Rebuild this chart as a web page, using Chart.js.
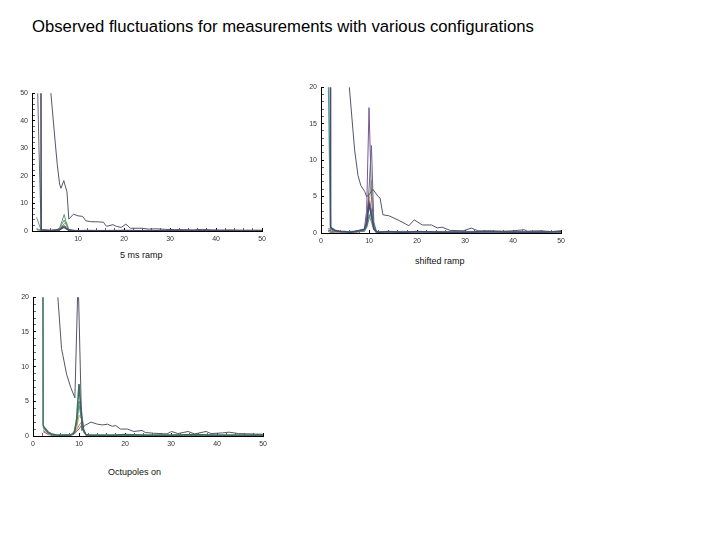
<!DOCTYPE html>
<html>
<head>
<meta charset="utf-8">
<script src="https://cdn.jsdelivr.net/npm/chart.js@4.4.0/dist/chart.umd.min.js"></script>
<style>
  body { margin: 0; background: #fff; width: 720px; height: 540px; position: relative; overflow: hidden; font-family: "Liberation Sans", Arial, sans-serif; }
  .title { position: absolute; left: 32px; top: 17px; font-size: 16.7px; color: #000; white-space: nowrap; }
  .cap { position: absolute; font-size: 9px; color: #111; white-space: nowrap; }
  canvas { position: absolute; }
</style>
</head>
<body>
<div class="title">Observed fluctuations for measurements with various configurations</div>
<canvas id="c1" width="263" height="163" style="left:10px;top:82px"></canvas>
<canvas id="c2" width="273" height="171" style="left:299px;top:76px"></canvas>
<canvas id="c3" width="263" height="164" style="left:11px;top:286px"></canvas>
<div class="cap" style="left:120px;top:250px">5 ms ramp</div>
<div class="cap" style="left:415px;top:256px">shifted ramp</div>
<div class="cap" style="left:108px;top:467px">Octupoles on</div>
<script>
// panel 1: 5 ms ramp (y 0-50)
const x1 = [1, 1.5, 2, 3, 4, 5, 6, 6.5, 7, 7.5, 8, 9, 10, 12, 15, 20, 25, 30, 35, 40, 45, 50];
const p1Slate = [300, 500, 0.4, 0.3, 0.2, 0.3, 0.5, 1.0, 1.4, 0.8, 0.3, 0.2, 0.1, 0.2, 0.1, 0.2, 0.1, 0.2, 0.1, 0.2, 0.1, 0.1];
const p1Gray = [69, 31, 0.3, 0.2, 0.2, 0.2, 0.4, 1.5, 2.0, 1.2, 0.3, 0.1, 0.2, 0.1, 0.2, 0.1, 0.2, 0.1, 0.2, 0.1, 0.2, 0.1];
const p1Green = [5, 2.5, 0.3, 0.2, 0.2, 0.3, 1.0, 3.5, 6.0, 2.5, 0.4, 0.2, 0.1, 0.2, 0.1, 0.1, 0.2, 0.1, 0.1, 0.2, 0.1, 0.1];
const p1Teal = [1.0, 0.5, 0.2, 0.1, 0.1, 0.2, 0.8, 2.5, 4.0, 2.0, 0.3, 0.1, 0.2, 0.1, 0.1, 0.2, 0.1, 0.1, 0.2, 0.1, 0.1, 0.1];
const p1Olive = [0.6, 0.4, 0.2, 0.2, 0.1, 0.2, 0.6, 1.8, 2.6, 3.2, 0.5, 0.2, 0.1, 0.1, 0.2, 0.1, 0.1, 0.1, 0.1, 0.1, 0.2, 0.1];
const p1Rose = [0.4, 0.3, 0.1, 0.1, 0.2, 0.1, 0.4, 1.2, 1.8, 1.5, 0.4, 0.1, 0.1, 0.1, 0.1, 0.1, 0.1, 0.2, 0.1, 0.1, 0.1, 0.1];
const n1x = [3.5, 4, 5, 5.5, 6, 6.3, 6.9, 7.6, 8, 9, 10, 11, 11.7, 12.7, 14.4, 15.5, 16.2, 17.6, 18.3, 19.4, 20.4, 21.4, 23.9, 25.3, 27, 29, 31, 33, 35, 37, 39, 41, 43, 45, 47, 50];
const n1y = [70, 52, 33, 24, 17, 15.5, 18.3, 14.2, 4.3, 6.1, 5.5, 5.3, 3.7, 3.4, 3.3, 3.2, 1.7, 2.3, 1.7, 1.3, 2.5, 1.0, 1.0, 0.7, 0.8, 0.6, 0.5, 0.5, 0.4, 0.6, 0.4, 0.3, 0.4, 0.3, 0.3, 0.3];

// panel 2: shifted ramp (y 0-20)
const x2 = [1.5, 2, 2.5, 3, 4, 5, 6, 7, 8, 9, 9.5, 10, 10.5, 11, 11.5, 12, 14, 17, 20, 25, 30, 35, 40, 45, 50];
const p2Slate = [500, 0.8, 0.5, 0.3, 0.2, 0.2, 0.1, 0.2, 0.3, 0.5, 1.2, 4.0, 2.5, 0.6, 0.2, 0.1, 0.2, 0.1, 0.2, 0.1, 0.1, 0.2, 0.1, 0.1, 0.2];
const p2Teal = [23, 0.6, 0.3, 0.2, 0.2, 0.1, 0.2, 0.2, 0.2, 0.3, 0.8, 2.0, 3.0, 0.8, 0.1, 0.1, 0.1, 0.2, 0.1, 0.1, 0.2, 0.1, 0.1, 0.2, 0.1];
const p2Purple = [0.6, 0.5, 0.6, 0.4, 0.2, 0.2, 0.1, 0.2, 0.3, 0.4, 3.0, 17.2, 5.0, 0.8, 0.2, 0.1, 0.1, 0.1, 0.2, 0.1, 0.1, 0.1, 0.2, 0.1, 0.1];
const p2Blue = [0.4, 0.3, 0.2, 0.3, 0.2, 0.1, 0.2, 0.2, 0.4, 0.5, 1.5, 6.0, 12.0, 1.5, 0.3, 0.1, 0.2, 0.1, 0.1, 0.2, 0.1, 0.1, 0.1, 0.2, 0.1];
const p2Gold = [0.3, 0.2, 0.2, 0.1, 0.1, 0.2, 0.1, 0.2, 0.3, 0.4, 1.0, 4.0, 7.2, 1.2, 0.2, 0.1, 0.1, 0.1, 0.1, 0.1, 0.1, 0.2, 0.1, 0.1, 0.1];
const p2Red = [0.3, 0.2, 0.1, 0.2, 0.1, 0.1, 0.2, 0.1, 0.2, 0.3, 1.5, 5.0, 3.0, 0.8, 0.2, 0.1, 0.1, 0.1, 0.1, 0.1, 0.1, 0.1, 0.1, 0.1, 0.1];
const p2Rose = [0.2, 0.2, 0.1, 0.1, 0.2, 0.1, 0.1, 0.2, 0.2, 0.3, 2.0, 4.2, 2.0, 0.6, 0.2, 0.1, 0.1, 0.1, 0.1, 0.1, 0.1, 0.1, 0.1, 0.1, 0.1];
const p2Green = [0.2, 0.1, 0.1, 0.2, 0.1, 0.1, 0.1, 0.1, 0.2, 0.2, 0.8, 2.5, 1.5, 0.4, 0.1, 0.1, 0.1, 0.1, 0.1, 0.1, 0.1, 0.1, 0.1, 0.1, 0.1];
const n2x = [5, 5.9, 7.0, 7.7, 8.3, 9.1, 9.5, 10.1, 10.8, 11.9, 12.3, 12.9, 14.2, 16.3, 18.3, 19.4, 21.1, 23, 24.2, 25.2, 26.9, 29.6, 31.3, 32.7, 35.4, 38, 40, 42.3, 43, 45.8, 48, 50];
const n2y = [32, 20, 11.4, 7.9, 6.5, 5.7, 5.0, 5.3, 6.0, 5.0, 4.8, 2.5, 2.35, 1.7, 1.0, 1.8, 1.1, 1.1, 0.7, 0.8, 0.36, 0.3, 0.67, 0.3, 0.3, 0.25, 0.3, 0.45, 0.25, 0.3, 0.2, 0.3];

// panel 3: octupoles on (y 0-20)
const x3 = [1.5, 2.2, 2.6, 3.3, 4.3, 5, 6, 7, 8, 8.5, 9, 9.5, 10, 10.5, 11, 11.5, 12, 14, 17, 20, 25, 30, 35, 40, 45, 50];
const p3DarkGreen = [400, 1.5, 1.1, 0.56, 0.2, 0.15, 0.1, 0.1, 0.15, 0.2, 0.5, 2.5, 7.5, 3.0, 0.8, 0.2, 0.1, 0.1, 0.1, 0.2, 0.1, 0.1, 0.2, 0.1, 0.1, 0.1];
const p3Green = [null, 1.3, 1.0, 0.5, 0.3, 0.2, 0.1, 0.1, 0.2, 0.3, 0.8, 2.0, 5.0, 4.0, 1.0, 0.2, 0.1, 0.1, 0.1, 0.1, 0.1, 0.1, 0.1, 0.1, 0.1, 0.1];
const p3Teal = [null, 1.2, 0.9, 0.4, 0.2, 0.1, 0.1, 0.2, 0.1, 0.3, 0.6, 1.8, 4.5, 2.5, 0.6, 0.2, 0.1, 0.1, 0.1, 0.1, 0.1, 0.1, 0.1, 0.1, 0.1, 0.1];
const p3Gold = [null, 1.0, 0.8, 0.4, 0.2, 0.1, 0.1, 0.1, 0.2, 0.2, 0.5, 1.2, 3.0, 2.5, 0.8, 0.2, 0.1, 0.1, 0.1, 0.1, 0.1, 0.1, 0.1, 0.1, 0.1, 0.1];
const p3Rose = [null, 0.8, 0.6, 0.3, 0.1, 0.1, 0.1, 0.1, 0.1, 0.2, 0.4, 0.9, 1.5, 2.0, 0.9, 0.2, 0.1, 0.1, 0.1, 0.1, 0.1, 0.1, 0.1, 0.1, 0.1, 0.1];
const p3Red = [null, 0.6, 0.5, 0.2, 0.1, 0.1, 0.1, 0.1, 0.1, 0.2, 0.3, 0.7, 1.0, 1.5, 0.6, 0.1, 0.1, 0.1, 0.1, 0.1, 0.1, 0.1, 0.1, 0.1, 0.1, 0.1];
const n3x = [4.8, 5.4, 6.2, 7.3, 8.2, 9.1, 9.8, 10.6, 11.2, 12.6, 14.0, 15.1, 16.2, 17.2, 18.0, 19.0, 20.5, 21.9, 23.7, 24.4, 26.2, 29.1, 30.1, 31.5, 33.7, 35.1, 37.6, 38.7, 41.2, 42.6, 44.7, 48.3, 50];
const n3y = [26, 20, 12.6, 8.9, 7.0, 5.5, 23, 0.8, 1.5, 2.0, 1.7, 1.6, 1.7, 1.4, 1.5, 1.0, 1.0, 0.65, 0.8, 0.5, 0.4, 0.3, 0.65, 0.35, 0.65, 0.3, 0.65, 0.35, 0.45, 0.55, 0.35, 0.28, 0.25];

const C = {
  gray: '#55556a', slate: '#4a4a6e', green: '#6a9a6a', dkgreen: '#3e6e5e', teal: '#4f9a9a',
  olive: '#9a9a55', rose: '#c08080', purple: '#7b5590', blue: '#5a6e8e', gold: '#c4aa58', red: '#b05858'
};

function ser(xs, ys, color, w) {
  return { data: xs.map((x, i) => ({ x: x, y: ys[i] })), borderColor: color, borderWidth: w || 1, pointRadius: 0, fill: false, tension: 0 };
}

function axis(dir, max, step, major, zeroLabel) {
  return {
    type: 'linear', min: 0, max: max,
    afterBuildTicks: s => {
      const t = [];
      for (let v = 0; v <= max; v += step) t.push({ value: v });
      s.ticks = t;
    },
    afterFit: s => { if (dir === 'x') s.height = 14; else s.width = 22; },
    border: { display: true, color: '#000', width: 1 },
    grid: { drawOnChartArea: false, drawTicks: true, tickLength: -3, lineWidth: 1,
      color: c => (c.tick && c.tick.value % major === 0) ? '#000' : '#666' },
    ticks: { autoSkip: false, maxRotation: 0, padding: 7, color: '#333',
      font: { family: 'Liberation Sans', size: 7 },
      callback: v => (v % major === 0 && (zeroLabel || v !== 0)) ? String(v) : '' }
  };
}

function plot(id, datasets, yMax, yStep, yMajor, xZero) {
  new Chart(document.getElementById(id), {
    type: 'line',
    data: { datasets: datasets },
    options: {
      responsive: false, animation: false,
      layout: { padding: { top: 6, right: 8, left: 0, bottom: 0 } },
      plugins: { legend: { display: false }, tooltip: { enabled: false } },
      scales: { x: axis('x', 50, 2, 10, xZero), y: axis('y', yMax, yStep, yMajor, true) }
    }
  });
}

plot('c1', [
  ser(n1x, n1y, C.gray),
  ser(x1, p1Slate, C.slate, 1.6), ser(x1, p1Gray, '#6a6a6a'), ser(x1, p1Green, C.green),
  ser(x1, p1Teal, C.teal), ser(x1, p1Olive, C.olive), ser(x1, p1Rose, C.rose)
], 50, 2, 10, false);

plot('c2', [
  ser(n2x, n2y, C.gray),
  ser(x2, p2Slate, C.slate, 1.6), ser(x2, p2Teal, C.teal, 1.4), ser(x2, p2Purple, C.purple),
  ser(x2, p2Blue, C.blue), ser(x2, p2Gold, C.gold), ser(x2, p2Red, C.red),
  ser(x2, p2Rose, C.rose), ser(x2, p2Green, C.green)
], 20, 1, 5, true);

plot('c3', [
  ser(n3x, n3y, C.gray),
  ser(x3, p3DarkGreen, C.dkgreen, 1.6), ser(x3, p3Green, C.green), ser(x3, p3Teal, C.teal),
  ser(x3, p3Gold, C.gold), ser(x3, p3Rose, C.rose), ser(x3, p3Red, C.red)
], 20, 1, 5, true);
</script>
</body>
</html>
